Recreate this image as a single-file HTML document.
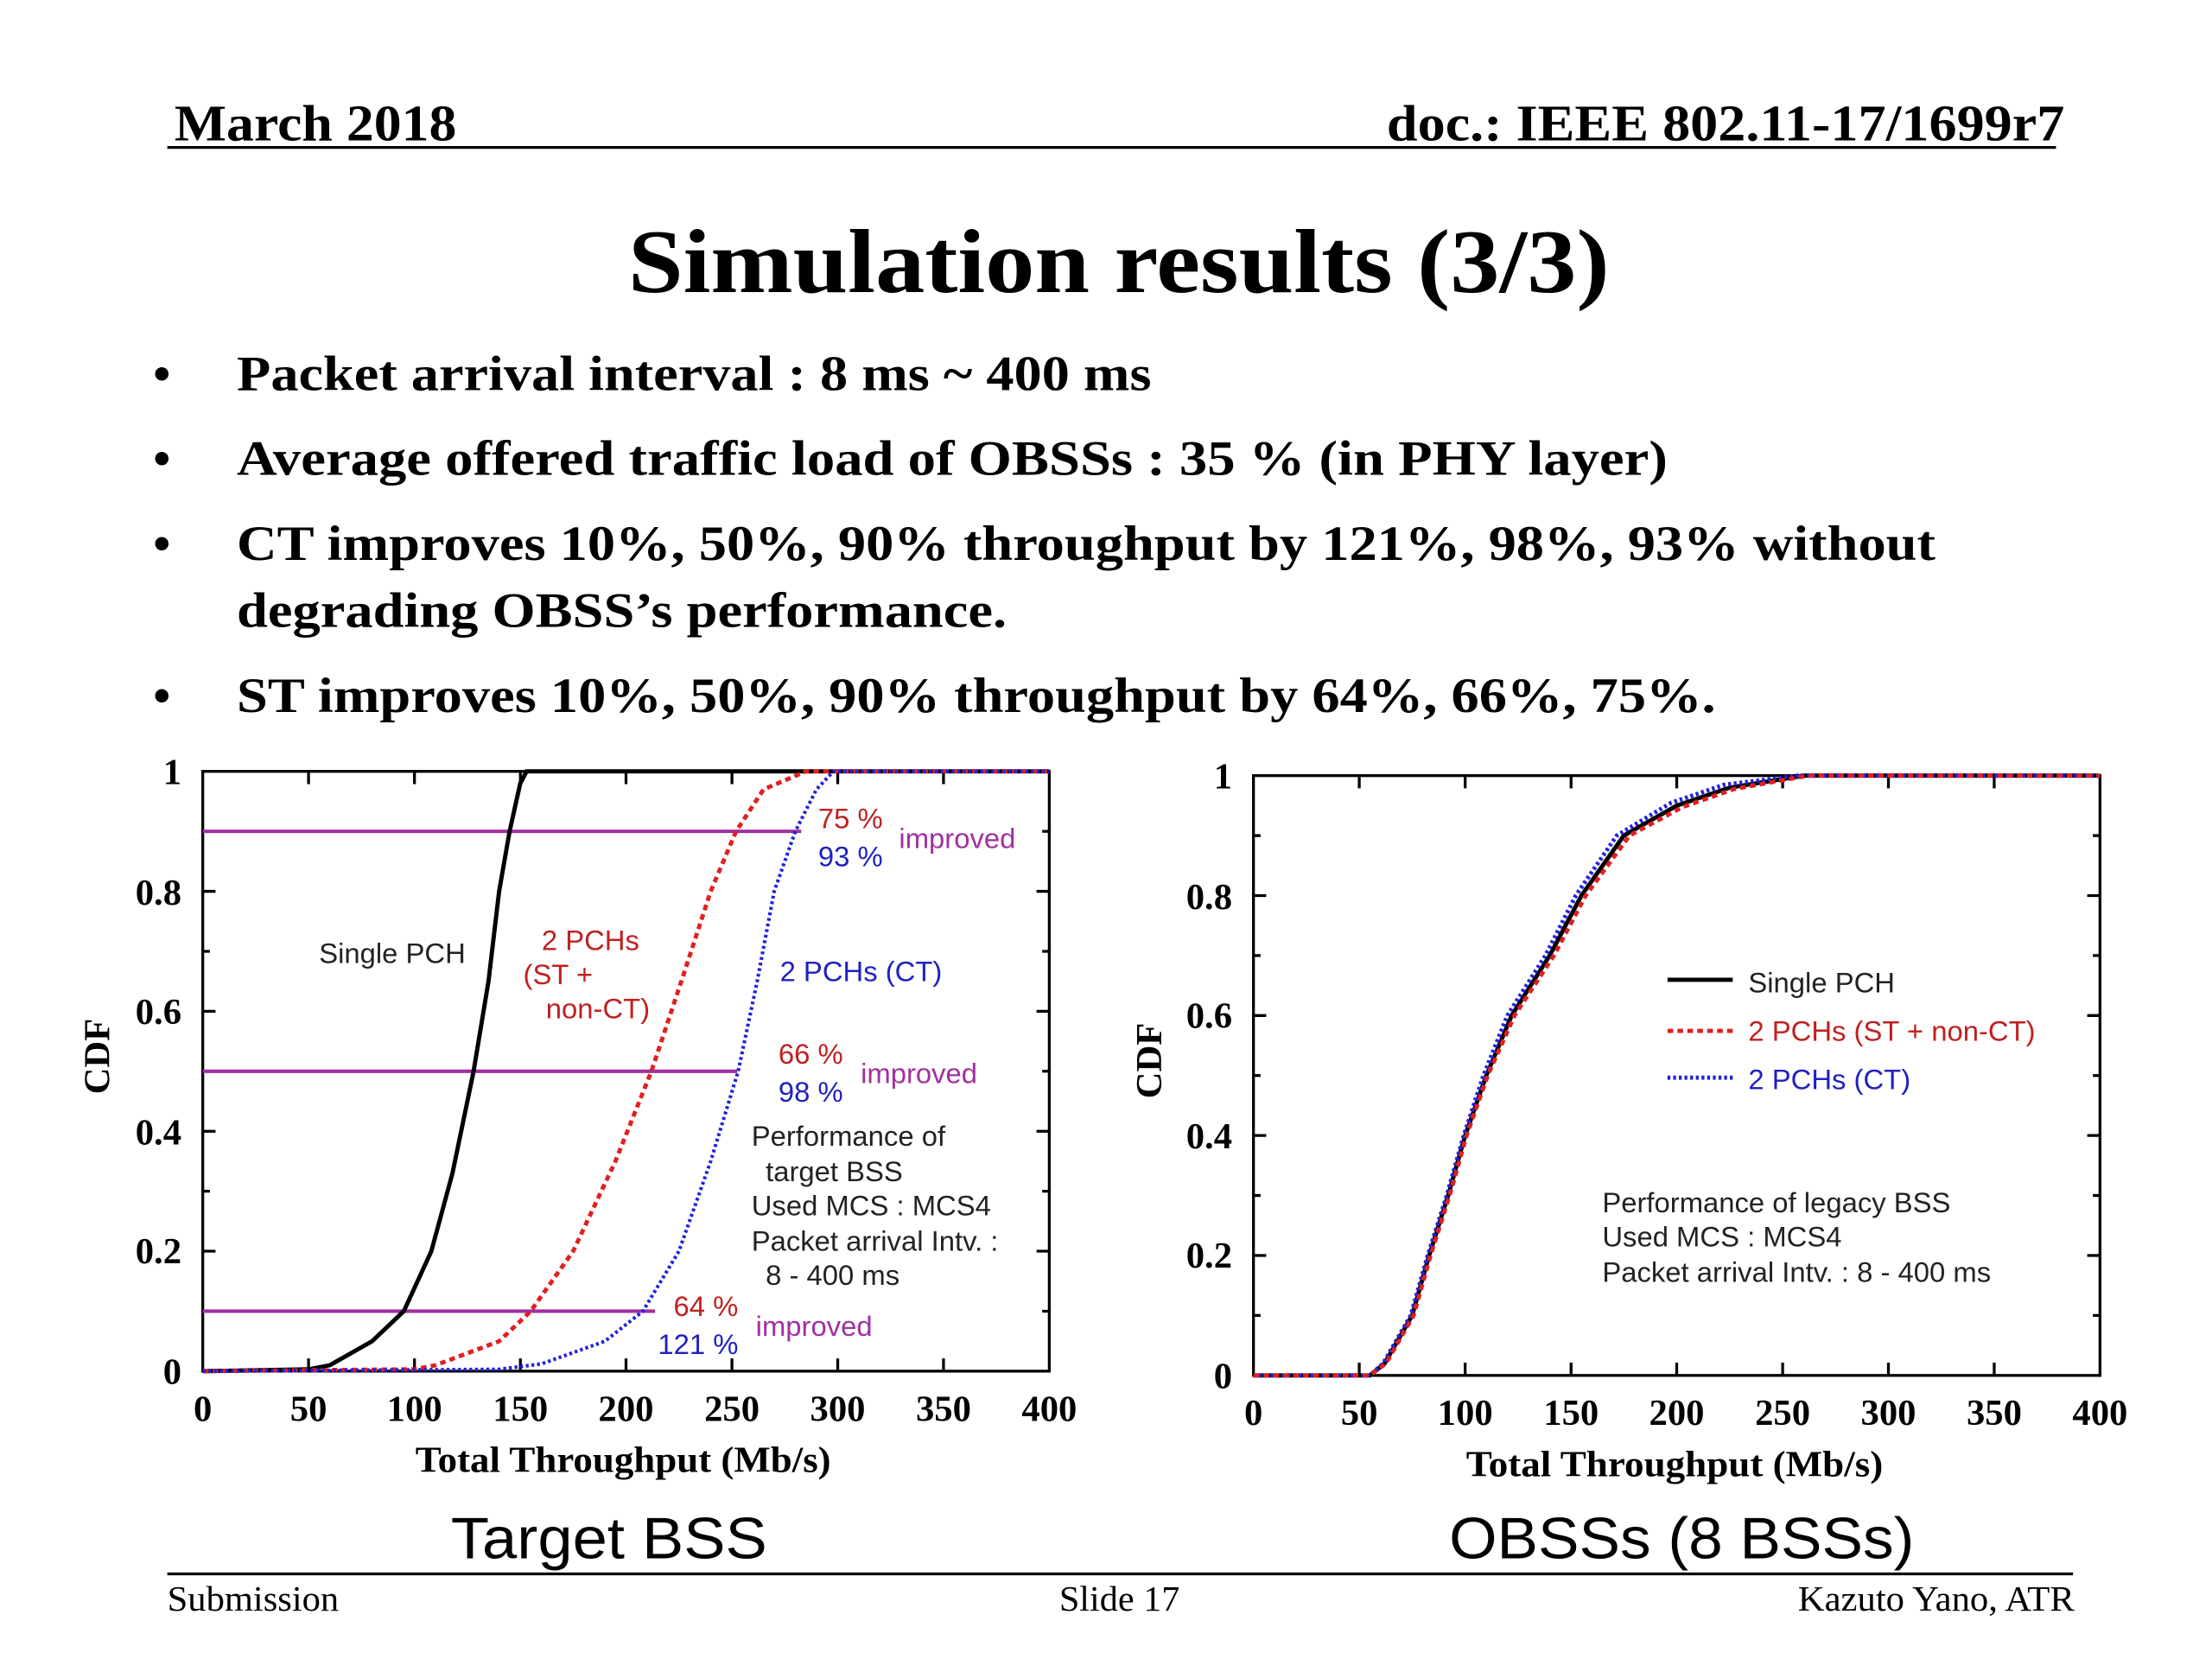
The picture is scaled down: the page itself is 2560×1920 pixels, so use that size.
<!DOCTYPE html>
<html><head><meta charset="utf-8"><style>
html,body{margin:0;padding:0;background:#fff;}
svg{display:block;}
.s{font-family:"Liberation Serif",serif;}
.a{font-family:"Liberation Sans",sans-serif;}
</style></head><body>
<svg width="2560" height="1920" viewBox="0 0 1560 1170" preserveAspectRatio="none" xmlns="http://www.w3.org/2000/svg">
<rect width="1560" height="1170" fill="#fff"/>
<g class="s" font-weight="bold" fill="#000">
<text x="123" y="99" font-size="36" textLength="199" lengthAdjust="spacingAndGlyphs">March 2018</text>
<text x="978" y="99" font-size="36" textLength="478" lengthAdjust="spacingAndGlyphs">doc.: IEEE 802.11-17/1699r7</text>
<text x="443" y="206" font-size="64" textLength="692" lengthAdjust="spacingAndGlyphs">Simulation results (3/3)</text>
<g font-size="35">
<text x="108" y="275">•</text><text x="167" y="275" textLength="645" lengthAdjust="spacingAndGlyphs">Packet arrival interval : 8 ms ~ 400 ms</text>
<text x="108" y="335">•</text><text x="167" y="335" textLength="1009" lengthAdjust="spacingAndGlyphs">Average offered traffic load of OBSSs : 35 % (in PHY layer)</text>
<text x="108" y="395">•</text><text x="167" y="395" textLength="1198" lengthAdjust="spacingAndGlyphs">CT improves 10%, 50%, 90% throughput by 121%, 98%, 93% without</text>
<text x="167" y="442" textLength="543" lengthAdjust="spacingAndGlyphs">degrading OBSS’s performance.</text>
<text x="108" y="502">•</text><text x="167" y="502" textLength="1043" lengthAdjust="spacingAndGlyphs">ST improves 10%, 50%, 90% throughput by 64%, 66%, 75%.</text>
</g></g>
<line x1="118" y1="104" x2="1450" y2="104" stroke="#000" stroke-width="2"/>

<!-- Left plot -->
<g stroke="#000" stroke-width="2" fill="none">
<rect x="143" y="544" width="597" height="423"/>
<path d="M217.6 967v-9M292.3 967v-9M367 967v-9M441.5 967v-9M516.2 967v-9M590.8 967v-9M665.4 967v-9M217.6 544v9M292.3 544v9M367 544v9M441.5 544v9M516.2 544v9M590.8 544v9M665.4 544v9
M143 882.4h9M143 797.8h9M143 713.2h9M143 628.6h9M143 924.7h5M143 840.1h5M143 755.5h5M143 670.9h5M143 586.3h5
M740 882.4h-9M740 797.8h-9M740 713.2h-9M740 628.6h-9M740 924.7h-5M740 840.1h-5M740 755.5h-5M740 670.9h-5M740 586.3h-5"/>
</g>
<g stroke="#a030a0" stroke-width="2.5">
<line x1="143" y1="586.3" x2="565" y2="586.3"/>
<line x1="143" y1="755.5" x2="520" y2="755.5"/>
<line x1="143" y1="924.7" x2="462" y2="924.7"/>
</g>
<polyline fill="none" stroke="#000" stroke-width="3" points="143,967 217.6,965.7 232.6,962.8 262.4,945.9 284.8,924.7 304.2,882.4 319.1,827.4 334,755.5 344.5,692.1 352,628.6 359.4,586.3 366.9,552.5 371.4,544 740,544"/>
<polyline fill="none" stroke="#e02020" stroke-width="3" stroke-dasharray="4 3" points="143,967 292.3,965.7 307.2,962.8 352,945.9 374.3,924.7 404.2,882.4 434,819 459.4,755.5 483.3,683.6 501.2,628.6 519.1,586.3 538.5,556.7 568.4,544 740,544"/>
<polyline fill="none" stroke="#2020e0" stroke-width="2.5" stroke-dasharray="2 2" points="143,967 352,965.7 381.8,961.9 426.6,945.9 453.4,924.7 478.8,882.4 501.2,819 520.6,755.5 534,692.1 546,628.6 560.9,586.3 575.8,556.7 587.8,544 740,544"/>
<g class="s" font-weight="bold" font-size="26" text-anchor="middle">
<text x="143" y="1002">0</text><text x="217.6" y="1002">50</text><text x="292.3" y="1002">100</text><text x="367" y="1002">150</text><text x="441.5" y="1002">200</text><text x="516.2" y="1002">250</text><text x="590.8" y="1002">300</text><text x="665.4" y="1002">350</text><text x="740" y="1002">400</text>
</g>
<text class="s" font-weight="bold" font-size="26" x="293" y="1038" textLength="293" lengthAdjust="spacingAndGlyphs">Total Throughput (Mb/s)</text>
<g class="s" font-weight="bold" font-size="26" text-anchor="end">
<text x="128" y="976">0</text><text x="128" y="891">0.2</text><text x="128" y="807">0.4</text><text x="128" y="722">0.6</text><text x="128" y="638">0.8</text><text x="128" y="553">1</text>
</g>
<text class="s" font-weight="bold" font-size="26" transform="translate(77,745) rotate(-90)" text-anchor="middle">CDF</text>
<g class="a" font-size="20">
<text x="225" y="679" fill="#222">Single PCH</text>
<text x="382" y="670" fill="#c02020">2 PCHs</text>
<text x="369" y="694" fill="#c02020">(ST +</text>
<text x="385" y="718" fill="#c02020">non-CT)</text>
<text x="550" y="692" fill="#2020c0">2 PCHs (CT)</text>
<text x="577" y="584" fill="#c02020">75 %</text><text x="577" y="611" fill="#2020c0">93 %</text><text x="634" y="598" fill="#a030a0">improved</text>
<text x="549" y="750" fill="#c02020">66 %</text><text x="549" y="777" fill="#2020c0">98 %</text><text x="607" y="764" fill="#a030a0">improved</text>
<text x="475" y="928" fill="#c02020">64 %</text><text x="464" y="955" fill="#2020c0">121 %</text><text x="533" y="942" fill="#a030a0">improved</text>
<text x="530" y="808" fill="#222">Performance of</text>
<text x="540" y="833" fill="#222">target BSS</text>
<text x="530" y="857" fill="#222">Used MCS : MCS4</text>
<text x="530" y="882" fill="#222">Packet arrival Intv. :</text>
<text x="540" y="906" fill="#222">8 - 400 ms</text>
</g>
<text class="a" x="318" y="1099" font-size="41" textLength="223" lengthAdjust="spacingAndGlyphs">Target BSS</text>

<!-- Right plot -->
<g stroke="#000" stroke-width="2" fill="none">
<rect x="884" y="547" width="597" height="423"/>
<path d="M958.6 970v-9M1033.3 970v-9M1108 970v-9M1182.5 970v-9M1257.2 970v-9M1331.8 970v-9M1406.4 970v-9M958.6 547v9M1033.3 547v9M1108 547v9M1182.5 547v9M1257.2 547v9M1331.8 547v9M1406.4 547v9
M884 885.4h9M884 800.8h9M884 716.2h9M884 631.6h9M884 927.7h5M884 843.1h5M884 758.5h5M884 673.9h5M884 589.3h5
M1481 885.4h-9M1481 800.8h-9M1481 716.2h-9M1481 631.6h-9M1481 927.7h-5M1481 843.1h-5M1481 758.5h-5M1481 673.9h-5M1481 589.3h-5"/>
</g>
<polyline fill="none" stroke="#000" stroke-width="3" points="884,970 966.1,970 976.5,961.5 995.9,927.7 1007.9,885.4 1021.3,843.1 1033.3,800.8 1048.2,758.5 1066.1,716.2 1092.9,673.9 1115.3,631.6 1145.2,589.3 1182.5,568.2 1219.8,555.5 1272.1,547 1481,547"/>
<polyline fill="none" stroke="#2020e0" stroke-width="3" stroke-dasharray="2 2" points="884,970 966.1,970 975.5,961.5 994.9,927.7 1006.9,885.4 1020.3,843.1 1032.3,800.8 1046.2,758.5 1063.1,716.2 1089.9,673.9 1111.3,631.6 1140.2,589.3 1178.5,566.2 1215.8,553.5 1268.1,547 1481,547"/>
<polyline fill="none" stroke="#e02020" stroke-width="3" stroke-dasharray="4 3" points="884,970 966.1,970 977.5,961.5 996.9,927.7 1008.9,885.4 1022.3,843.1 1034.3,800.8 1049.2,758.5 1068.1,716.2 1095.9,673.9 1118.3,631.6 1149.2,589.3 1186.5,569.2 1222.8,556.5 1275.1,547 1481,547"/>
<g class="s" font-weight="bold" font-size="26" text-anchor="middle">
<text x="884" y="1005">0</text><text x="958.6" y="1005">50</text><text x="1033.3" y="1005">100</text><text x="1108" y="1005">150</text><text x="1182.5" y="1005">200</text><text x="1257.2" y="1005">250</text><text x="1331.8" y="1005">300</text><text x="1406.4" y="1005">350</text><text x="1481" y="1005">400</text>
</g>
<text class="s" font-weight="bold" font-size="26" x="1034" y="1041" textLength="294" lengthAdjust="spacingAndGlyphs">Total Throughput (Mb/s)</text>
<g class="s" font-weight="bold" font-size="26" text-anchor="end">
<text x="869" y="979">0</text><text x="869" y="894">0.2</text><text x="869" y="810">0.4</text><text x="869" y="725">0.6</text><text x="869" y="641">0.8</text><text x="869" y="556">1</text>
</g>
<text class="s" font-weight="bold" font-size="26" transform="translate(819,748) rotate(-90)" text-anchor="middle">CDF</text>
<g stroke-width="3">
<line x1="1176" y1="691" x2="1222" y2="691" stroke="#000"/>
<line x1="1176" y1="727" x2="1222" y2="727" stroke="#e02020" stroke-dasharray="4 3"/>
<line x1="1176" y1="760" x2="1222" y2="760" stroke="#2020e0" stroke-dasharray="2 2"/>
</g>
<g class="a" font-size="20">
<text x="1233" y="700" fill="#222">Single PCH</text>
<text x="1233" y="734" fill="#c02020">2 PCHs (ST + non-CT)</text>
<text x="1233" y="768" fill="#2020c0">2 PCHs (CT)</text>
<text x="1130" y="855" fill="#222">Performance of legacy BSS</text>
<text x="1130" y="879" fill="#222">Used MCS : MCS4</text>
<text x="1130" y="904" fill="#222">Packet arrival Intv. : 8 - 400 ms</text>
</g>
<text class="a" x="1022" y="1099" font-size="41" textLength="328" lengthAdjust="spacingAndGlyphs">OBSSs (8 BSSs)</text>

<line x1="118" y1="1110" x2="1462" y2="1110" stroke="#000" stroke-width="2"/>
<g class="s" font-size="25">
<text x="118" y="1136" textLength="121" lengthAdjust="spacingAndGlyphs">Submission</text>
<text x="747" y="1136" textLength="85" lengthAdjust="spacingAndGlyphs">Slide 17</text>
<text x="1268" y="1136" textLength="195" lengthAdjust="spacingAndGlyphs">Kazuto Yano, ATR</text>
</g>
</svg>
</body></html>
